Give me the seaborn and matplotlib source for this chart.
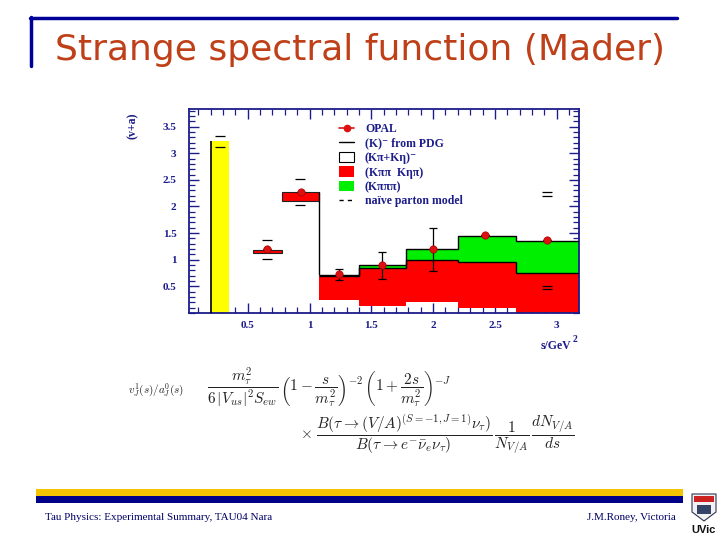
import matplotlib
matplotlib.use("Agg")
import matplotlib.pyplot as plt
from matplotlib.lines import Line2D
from matplotlib.patches import Patch, Rectangle, Polygon
from matplotlib.ticker import MultipleLocator
import numpy as np
import pandas as pd
import seaborn as sns

# ---------------- data ----------------
# K pole (PDG)
k_left, k_right, k_height = 0.20, 0.35, 3.23
# K-pi region bins (red boxes)
kpi_edges = [0.545, 0.78, 1.075]
kpi_low = [1.12, 2.10]
kpi_high = [1.18, 2.27]
# higher-mass bins
bin_edges = [1.075, 1.40, 1.78, 2.20, 2.67, 3.18]
red_low = [0.235, 0.14, 0.20, 0.09, 0.0]
red_high = [0.70, 0.84, 0.99, 0.96, 0.75]
green_high = [0.70, 0.90, 1.20, 1.45, 1.36]
total_high = [0.72, 0.90, 1.20, 1.45, 1.36]
# OPAL data points
opal_s = [0.66, 0.93, 1.24, 1.59, 1.995, 2.42, 2.92]
opal_v = [1.20, 2.28, 0.73, 0.91, 1.20, 1.46, 1.37]
opal_err_lo = [0.0, 0.0, 0.11, 0.27, 0.41, 0.0, 0.0]
opal_err_hi = [0.0, 0.0, 0.09, 0.24, 0.40, 0.0, 0.0]
# short dash marks
dash_s = [0.275, 0.275, 0.66, 0.66, 0.92, 0.92, 2.92, 2.92, 2.92, 2.92]
dash_v = [3.33, 3.12, 1.37, 1.02, 2.51, 2.03, 2.27, 2.20, 0.51, 0.45]

legend_labels = ["OPAL", "(K)\u207b from PDG", "(K\u03c0+K\u03b7)\u207b",
                 "(K\u03c0\u03c0  K\u03b7\u03c0)", "(K\u03c0\u03c0\u03c0)", "na\u00efve parton model"]
x_ticks = [0.5, 1, 1.5, 2, 2.5, 3]
x_ticklabels = ["0.5", "1", "1.5", "2", "2.5", "3"]
y_ticks = [0.5, 1, 1.5, 2, 2.5, 3, 3.5]
y_ticklabels = ["0.5", "1", "1.5", "2", "2.5", "3", "3.5"]

title = "Strange spectral function (Mader)"
footer_left = "Tau Physics: Experimental Summary, TAU04 Nara"
footer_right = "J.M.Roney, Victoria"

# ---------------- style ----------------
sns.set_theme(style="white")
plt.rcParams['font.family'] = ['DejaVu Sans']
plt.rcParams['mathtext.fontset'] = 'cm'
NAVY = "#1c1c8a"
SERIF = ['Liberation Serif', 'DejaVu Serif']

W, H = 720, 540
fig = plt.figure(figsize=(7.2, 5.4), dpi=100)
fig.patch.set_facecolor("white")

def fx(px):
    return px / W

def fy(py):
    return 1 - py / H

# axes placement
ax = fig.add_axes([fx(189), fy(313), fx(579) - fx(189), fy(109) - fy(313)])
ax.set_xlim(0.025, 3.18)
ax.set_ylim(0.0, 3.83)

# yellow K pole bar
ax.bar([k_left], [k_height], width=k_right - k_left, align="edge",
       color="#ffff00", edgecolor="none", zorder=2)
ax.vlines(k_left, 0, k_height, color="black", lw=1.2, zorder=3)

# K-pi boxes
kpi_widths = np.diff(kpi_edges)
ax.bar(kpi_edges[:-1], np.array(kpi_high) - np.array(kpi_low), bottom=kpi_low,
       width=kpi_widths, align="edge", color="#ff0000", edgecolor="#222222",
       linewidth=0.8, zorder=2)

# red and green stacked bands
ax.stairs(red_high, bin_edges, baseline=red_low, fill=True, color="#ff0000", zorder=2)
ax.stairs(green_high, bin_edges, baseline=red_high, fill=True, color="#00ee00", zorder=2)
ax.stairs(red_high, bin_edges, baseline=None, color="black", lw=1.0, zorder=3)
ax.stairs(total_high, bin_edges, baseline=None, color="black", lw=1.0, zorder=3)
ax.vlines(bin_edges[0], total_high[0], kpi_high[-1], color="black", lw=1.0, zorder=3)

# dashes
ax.plot(dash_s, dash_v, linestyle="none", marker="_", markersize=7,
        markeredgewidth=0.9, color="black", zorder=4)

# OPAL points
ax.errorbar(opal_s, opal_v, yerr=[opal_err_lo, opal_err_hi], fmt="none",
            ecolor="black", elinewidth=0.9, capsize=3, capthick=0.9, zorder=4)
opal_df = pd.DataFrame({"s": opal_s, "v": opal_v})
sns.scatterplot(data=opal_df, x="s", y="v", ax=ax, color="#dd1111", s=28,
                edgecolor="#aa0000", linewidth=0.5, zorder=5, legend=False)
ax.set_xlabel("")
ax.set_ylabel("")

# ticks and spines
ax.set_xticks(x_ticks)
ax.set_xticklabels(x_ticklabels)
ax.set_yticks(y_ticks)
ax.set_yticklabels(y_ticklabels)
ax.xaxis.set_minor_locator(MultipleLocator(0.1))
ax.yaxis.set_minor_locator(MultipleLocator(0.1))
ax.tick_params(which="both", direction="in", top=True, right=True, color=NAVY,
               bottom=True, left=True)
ax.tick_params(which="major", length=7, width=1.0)
ax.tick_params(which="minor", length=4, width=0.9)
ax.tick_params(axis="y", pad=9)
ax.tick_params(axis="x", pad=6)
for lab in ax.get_xticklabels() + ax.get_yticklabels():
    lab.set_family(SERIF)
    lab.set_fontweight("bold")
    lab.set_fontsize(8)
    lab.set_color(NAVY)
for sp in ax.spines.values():
    sp.set_color(NAVY)
    sp.set_linewidth(1.3)
ax.set_facecolor("white")

# legend
handles = [
    Line2D([], [], color="#dd1111", marker="o", markersize=4.5, lw=1.2),
    Line2D([], [], color="black", lw=1.0),
    Patch(facecolor="white", edgecolor="black", linewidth=0.8),
    Patch(facecolor="#ff0000", edgecolor="none"),
    Patch(facecolor="#00ee00", edgecolor="none"),
    Line2D([], [], color="black", lw=1.0, linestyle=(0, (3, 3))),
]
leg = ax.legend(handles, legend_labels, loc="upper left",
                bbox_to_anchor=((333 - 189) / 390, (313 - 117) / 204),
                frameon=False, handlelength=1.3, handleheight=1.0,
                handletextpad=0.9, labelspacing=0.18, borderpad=0,
                prop={"family": SERIF, "weight": "bold", "size": 8.5})
for t in leg.get_texts():
    t.set_color(NAVY)

# axis labels
fig.text(fx(133), fy(126), "(v+a)", rotation=90, ha="center", va="center",
         color=NAVY, fontsize=8.5, fontweight="bold", family=SERIF)
fig.text(fx(556), fy(346), "s/GeV", ha="center", va="center",
         color=NAVY, fontsize=8.5, fontweight="bold", family=SERIF)
fig.text(fx(575), fy(340), "2", ha="center", va="center",
         color=NAVY, fontsize=7, fontweight="bold", family=SERIF)

# title and frame lines
fig.add_artist(Line2D([fx(30), fx(677)], [fy(18), fy(18)], color="#000099", lw=2.5))
fig.add_artist(Line2D([fx(31), fx(31)], [fy(17), fy(66)], color="#000099", lw=2.5))
fig.text(fx(360), fy(50), title, ha="center", va="center", color="#bf4018",
         fontsize=26, family=["DejaVu Sans"])

# formula
fig.text(fx(128), fy(390), r"$v_J^{1}(s)/a_J^{0}(s)$", ha="left", va="center",
         fontsize=8, color="#222222")
fig.text(fx(207), fy(388),
         r"$\dfrac{m_\tau^2}{6\,|V_{us}|^2 S_{ew}}\,\left(1-\dfrac{s}{m_\tau^2}\right)^{-2}\,\left(1+\dfrac{2s}{m_\tau^2}\right)^{-J}$",
         ha="left", va="center", fontsize=11, color="#222222")
fig.text(fx(300), fy(434),
         r"$\times\ \dfrac{B(\tau\rightarrow(V/A)^{(S=-1,J=1)}\nu_\tau)}{B(\tau\rightarrow e^{-}\bar{\nu}_e\nu_\tau)}\,\dfrac{1}{N_{V/A}}\,\dfrac{dN_{V/A}}{ds}$",
         ha="left", va="center", fontsize=11, color="#222222")

# footer bands
fig.add_artist(Rectangle((fx(36), fy(496)), fx(683) - fx(36), fy(489) - fy(496),
                         color="#f5c400", lw=0))
fig.add_artist(Rectangle((fx(36), fy(503)), fx(683) - fx(36), fy(496) - fy(503),
                         color="#000088", lw=0))
fig.text(fx(45), fy(518), footer_left, ha="left", va="center", color="#000066",
         fontsize=8, family=SERIF)
fig.text(fx(676), fy(518), footer_right, ha="right", va="center", color="#000066",
         fontsize=8, family=SERIF)

# UVic logo (simple shield)
shield = Polygon([[fx(692), fy(494)], [fx(716), fy(494)], [fx(716), fy(512)],
                  [fx(704), fy(521)], [fx(692), fy(512)]], closed=True,
                 facecolor="#f2f2f2", edgecolor="#333355", lw=0.8)
fig.add_artist(shield)
fig.add_artist(Rectangle((fx(694), fy(502)), fx(20), fy(496) - fy(502),
                         color="#cc2222", lw=0))
fig.add_artist(Rectangle((fx(697), fy(514)), fx(14), fy(505) - fy(514),
                         color="#334466", lw=0))
fig.text(fx(704), fy(530), "UVic", ha="center", va="center", fontsize=8,
         fontweight="bold", color="#111111", family=["Liberation Sans", "DejaVu Sans"])

fig.savefig("out.png", dpi=100)
